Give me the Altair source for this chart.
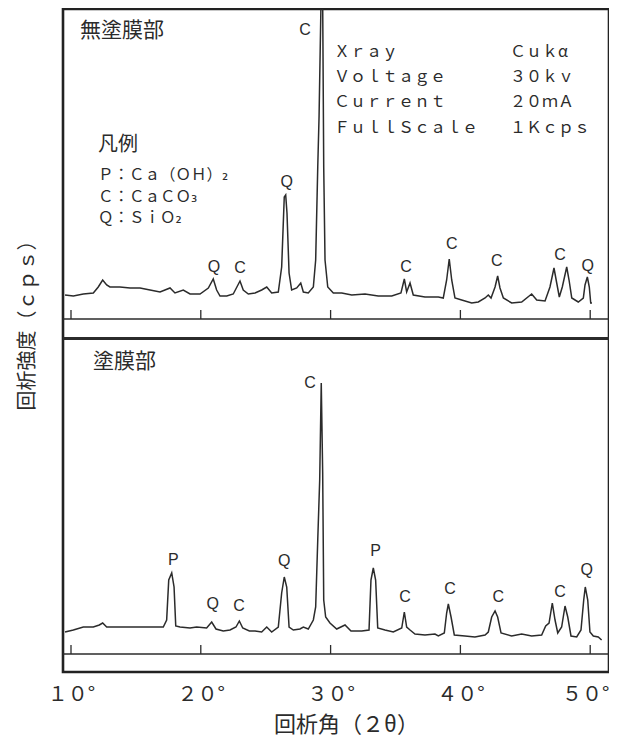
import altair as alt
import pandas as pd

# ---------------- data ----------------
TOP_TWO_THETA = [9.54, 10.18, 10.95, 11.72, 12.10, 12.44, 12.75, 13.00, 13.77, 14.55,
                 15.32, 16.09, 16.86, 17.63, 18.01, 18.65, 19.17, 19.94, 20.58, 20.96,
                 21.22, 21.48, 22.00, 22.50, 23.02, 23.27, 23.66, 24.18, 24.69, 25.08,
                 25.46, 25.97, 26.23, 26.43, 26.54, 26.64, 26.80, 27.00, 27.39, 27.70,
                 27.90, 28.28, 28.67, 28.85, 29.01, 29.11, 29.26, 29.39, 29.47, 29.57,
                 29.78, 30.21, 30.86, 31.63, 32.65, 33.67, 34.71, 35.42, 35.68, 35.86,
                 36.12, 36.37, 37.27, 38.04, 38.30, 38.68, 38.94, 39.14, 39.33, 39.58,
                 40.10, 40.87, 41.38, 41.90, 42.15, 42.36, 42.67, 42.87, 43.05, 43.31,
                 43.95, 44.72, 45.49, 45.88, 46.52, 46.90, 47.21, 47.42, 47.62, 47.85,
                 48.19, 48.37, 48.58, 49.08, 49.47, 49.60, 49.78, 49.93, 50.04, 50.14]
TOP_INTENSITY = [24, 23, 25, 26, 32, 39, 34, 32, 32, 31,
                 31, 29, 27, 31, 26, 29, 25, 25, 31, 40,
                 29, 23, 23, 25, 38, 29, 25, 26, 29, 32,
                 26, 27, 52, 122, 124, 106, 46, 29, 31, 36,
                 27, 26, 32, 59, 152, 202, 316, 316, 152, 59,
                 32, 26, 26, 24, 25, 23, 23, 26, 40, 27,
                 36, 24, 22, 22, 22, 21, 39, 60, 39, 21,
                 19, 16, 17, 21, 24, 21, 32, 43, 31, 21,
                 16, 17, 25, 19, 18, 32, 51, 36, 22, 32,
                 52, 39, 21, 17, 21, 34, 42, 32, 16, 16]

BOTTOM_TWO_THETA = [9.54, 10.18, 10.95, 11.72, 12.18, 12.44, 12.75, 13.52, 14.80, 16.09,
                    17.11, 17.37, 17.53, 17.76, 17.94, 18.07, 18.40, 19.17, 19.68, 20.45,
                    20.84, 21.17, 21.73, 22.25, 22.71, 22.97, 23.23, 23.74, 24.18, 24.69,
                    25.08, 25.46, 25.97, 26.23, 26.43, 26.62, 26.80, 27.13, 27.64, 27.90,
                    28.28, 28.67, 28.85, 29.01, 29.16, 29.28, 29.39, 29.47, 29.62, 29.95,
                    30.47, 31.11, 31.57, 32.40, 32.96, 33.11, 33.29, 33.47, 33.63, 34.19,
                    34.83, 35.48, 35.68, 35.86, 36.12, 36.50, 37.27, 38.04, 38.30, 38.76,
                    38.94, 39.07, 39.28, 39.53, 40.35, 41.12, 41.90, 42.15, 42.41, 42.67,
                    42.87, 43.13, 43.95, 44.72, 45.49, 46.26, 46.57, 46.83, 47.08, 47.29,
                    47.50, 47.80, 48.06, 48.27, 48.52, 48.96, 49.29, 49.50, 49.62, 49.81,
                    49.98, 50.24, 50.62, 50.88]
BOTTOM_INTENSITY = [22, 24, 27, 27, 29, 31, 27, 27, 27, 27,
                    27, 34, 74, 81, 67, 28, 27, 26, 27, 26,
                    32, 25, 23, 24, 27, 33, 26, 23, 23, 22,
                    27, 22, 27, 61, 77, 67, 27, 24, 25, 27,
                    25, 34, 47, 114, 174, 271, 181, 54, 37, 31,
                    25, 29, 23, 23, 24, 74, 86, 74, 26, 24,
                    22, 26, 42, 27, 24, 20, 19, 20, 18, 21,
                    41, 50, 37, 19, 18, 17, 19, 22, 37, 43,
                    37, 21, 18, 20, 18, 19, 28, 31, 51, 34,
                    21, 27, 48, 37, 18, 17, 24, 54, 67, 54,
                    22, 18, 17, 14]

TOP_PEAK_LABELS = ["Q", "C", "Q", "C", "C", "C", "C", "C", "Q"]
TOP_PEAK_THETA = [21.02, 23.02, 26.62, 28.03, 35.81, 39.33, 42.80, 47.67, 49.81]
TOP_PEAK_HEIGHT = [52, 51, 137, 289, 52, 75, 58, 64, 53]

BOTTOM_PEAK_LABELS = ["P", "Q", "C", "Q", "C", "P", "C", "C", "C", "C", "Q"]
BOTTOM_PEAK_THETA = [17.88, 20.92, 22.94, 26.43, 28.41, 33.47, 35.73, 39.20, 42.92, 47.67, 49.73]
BOTTOM_PEAK_HEIGHT = [94, 50, 48, 93, 271, 103, 57, 65, 57, 62, 84]

TICK_VALUES = [10, 20, 30, 40, 50]
TICK_LABELS = ["１０°", "２０°", "３０°", "４０°", "５０°"]

PANEL_TITLES = ["無塗膜部", "塗膜部"]
LEGEND_TITLE = "凡例"
LEGEND_LINES = ["Ｐ：Ｃａ（ＯＨ）₂", "Ｃ：ＣａＣＯ₃", "Ｑ：ＳｉＯ₂"]
INFO_KEYS = ["Ｘｒａｙ", "Ｖｏｌｔａｇｅ", "Ｃｕｒｒｅｎｔ", "ＦｕｌｌＳｃａｌｅ"]
INFO_VALUES = ["Ｃｕｋα", "３０ｋｖ", "２０ｍＡ", "１Ｋｃｐｓ"]
X_TITLE = "回析角（２θ）"
Y_TITLE = "回析強度（ｃｐｓ）"

# ---------------- layout / style ----------------
TOP_OFFSET = 353      # baseline of upper panel in the shared y scale
BOTTOM_OFFSET = 18    # baseline of lower panel
DIVIDER = 333.5
TICK_LEN = 9
INK = "#2b2b2b"
CJK = "Noto Sans CJK JP"
MIX = "DejaVu Sans, Noto Sans CJK JP"
LAT = "Liberation Sans"

xscale = alt.Scale(domain=[9.384, 51.448], nice=False, zero=False)
yscale = alt.Scale(domain=[0, 663], nice=False, zero=False)

label_expr = " : ".join(
    f"datum.value == {v} ? '{t}'" for v, t in zip(TICK_VALUES, TICK_LABELS)
) + " : ''"

X_AXIS = alt.Axis(values=TICK_VALUES, labelExpr=label_expr, domain=False,
                  ticks=False, tickSize=0, grid=False, labelPadding=28,
                  labelBaseline="alphabetic", labelFont=CJK, labelFontSize=20,
                  labelColor=INK, labelFlush=False, labelOverlap=False,
                  labelOffset=alt.condition("datum.value == 50", alt.value(-5), alt.value(0)),
                  title=X_TITLE, titleX=283, titleY=59,
                  titleBaseline="alphabetic", titleAlign="center",
                  titleFont=CJK, titleFontSize=22, titleFontWeight="normal",
                  titleColor=INK)
Y_AXIS = alt.Axis(labels=False, ticks=False, domain=False, grid=False,
                  title=Y_TITLE, titleX=-36, titleY=311, titleAngle=270,
                  titleAlign="center", titleBaseline="middle",
                  titleFont=CJK, titleFontSize=20, titleFontWeight="normal",
                  titleColor=INK)


def X(field="theta:Q"):
    return alt.X(field, scale=xscale, axis=X_AXIS)


def Y(field="y:Q"):
    return alt.Y(field, scale=yscale, axis=Y_AXIS)


top = pd.DataFrame({"theta": TOP_TWO_THETA, "cps": TOP_INTENSITY, "panel": "無塗膜部"})
bot = pd.DataFrame({"theta": BOTTOM_TWO_THETA, "cps": BOTTOM_INTENSITY, "panel": "塗膜部"})
top["y"] = top["cps"] + TOP_OFFSET
bot["y"] = bot["cps"] + BOTTOM_OFFSET
traces = pd.concat([top, bot], ignore_index=True)

line = alt.Chart(traces).mark_line(clip=True, color=INK, strokeWidth=1.5).encode(
    x=X(), y=Y(), detail="panel:N",
)

base_df = pd.DataFrame({"y": [TOP_OFFSET, BOTTOM_OFFSET]})
baselines = alt.Chart(base_df).mark_rule(color=INK, strokeWidth=1.3).encode(y=Y())

tick_rows = []
for off in (TOP_OFFSET, BOTTOM_OFFSET):
    for v in TICK_VALUES:
        tick_rows.append({"theta": v, "y": off, "y2": off + TICK_LEN})
ticks = alt.Chart(pd.DataFrame(tick_rows)).mark_rule(color=INK, strokeWidth=1.3).encode(
    x=X(), y=Y(), y2="y2:Q",
)

divider = alt.Chart(pd.DataFrame({"y": [DIVIDER]})).mark_rule(color=INK, strokeWidth=3).encode(
    y=Y()
)

peaks = pd.concat([
    pd.DataFrame({"theta": TOP_PEAK_THETA, "y": [h + TOP_OFFSET for h in TOP_PEAK_HEIGHT],
                  "label": TOP_PEAK_LABELS}),
    pd.DataFrame({"theta": BOTTOM_PEAK_THETA, "y": [h + BOTTOM_OFFSET for h in BOTTOM_PEAK_HEIGHT],
                  "label": BOTTOM_PEAK_LABELS}),
], ignore_index=True)
peak_text = alt.Chart(peaks).mark_text(font=LAT, fontSize=16, color=INK,
                                       align="center", baseline="middle").encode(
    x=X(), y=Y(), text="label:N",
)


def txt(s, x, y, size, font=CJK):
    return alt.Chart(pd.DataFrame({"t": [s]})).mark_text(
        font=font, fontSize=size, color=INK, align="left", baseline="middle",
        x=x, y=y,
    ).encode(text="t:N")


texts = [
    txt(PANEL_TITLES[0], 17, 22, 21),
    txt(PANEL_TITLES[1], 30, 353, 21),
    txt(LEGEND_TITLE, 35, 136, 20),
]
for s, yy in zip(LEGEND_LINES, [166, 188, 209]):
    texts.append(txt(s, 35, yy, 15.5, MIX))
for k, v, yy in zip(INFO_KEYS, INFO_VALUES, [43, 68, 93, 119]):
    texts.append(txt(k, 271, yy, 16))
    texts.append(txt(v, 447, yy, 16))

chart = alt.layer(line, baselines, ticks, divider, peak_text, *texts).properties(
    width=546,
    height=663,
    padding={"left": 55, "top": 1, "right": 0, "bottom": 67},
    autosize=alt.AutoSizeParams(type="none"),
    background="white",
).configure_view(stroke="#222", strokeWidth=2.6)

chart.save("out.html", embed_options={"renderer": "svg", "actions": False})
